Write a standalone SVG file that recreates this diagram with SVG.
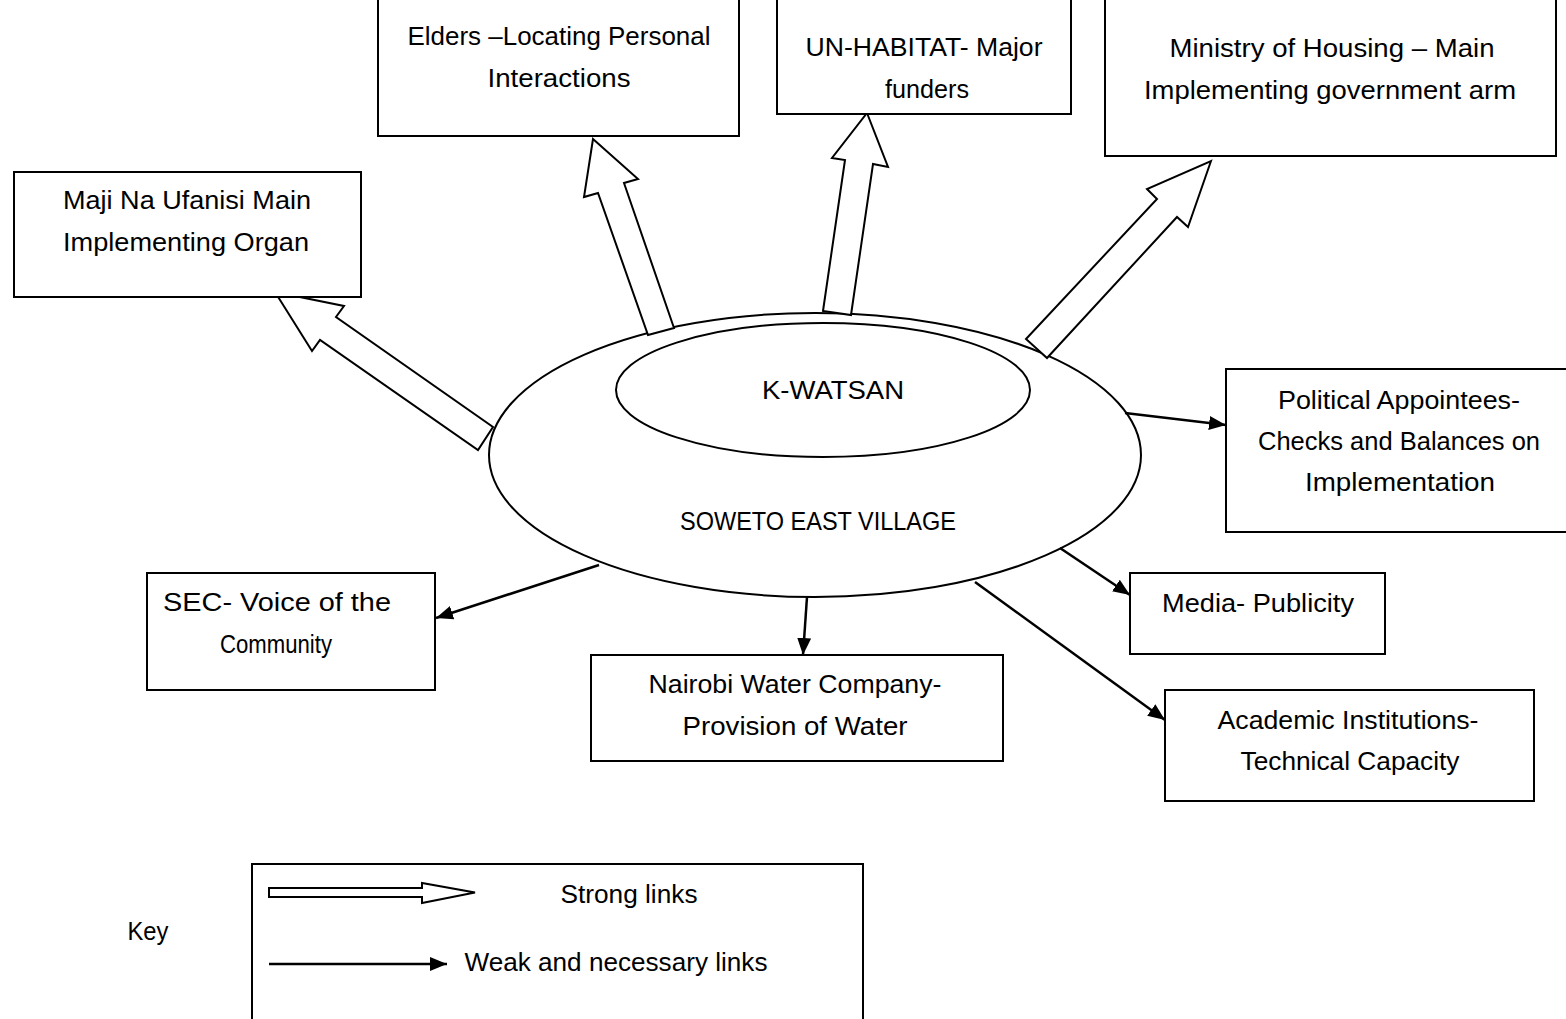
<svg xmlns="http://www.w3.org/2000/svg" width="1566" height="1019" viewBox="0 0 1566 1019">
<style>
.box{fill:#fff;stroke:#000;stroke-width:2}
.ell{fill:#fff;stroke:#000;stroke-width:2}
.blk{fill:#fff;stroke:#000;stroke-width:2;stroke-linejoin:miter}
.thin{fill:none;stroke:#000;stroke-width:2.5}
text{font-family:"Liberation Sans",Arial,sans-serif;font-size:25px;fill:#000;text-anchor:middle}
</style>
<defs>
<marker id="ah" markerUnits="userSpaceOnUse" markerWidth="18" markerHeight="15" refX="17" refY="7" orient="auto">
<path d="M0,0 L17,7 L0,14 z" fill="#000"/>
</marker>
</defs>
<rect width="1566" height="1019" fill="#fff"/>

<g id="soweto">
<ellipse class="ell" cx="815" cy="455" rx="326" ry="142"/>
<text x="818" y="530" font-size="24" textLength="276" lengthAdjust="spacingAndGlyphs">SOWETO EAST VILLAGE</text>
</g>
<g id="kwatsan">
<ellipse class="ell" cx="823" cy="390" rx="207" ry="67"/>
<text x="833" y="399" textLength="142" lengthAdjust="spacingAndGlyphs">K-WATSAN</text>
</g>

<g id="connectors">
<polygon class="blk" points="275,292 344,306 336,317 493,427 478,450 320,340 312,351"/>
<polygon class="blk" points="593,139 638,179 624,183 674,328 648,335 598,193 584,197"/>
<polygon class="blk" points="867,113 888,167 873,164 851,315 823,311 845,160 832,158"/>
<polygon class="blk" points="1211,161 1188,227 1177,217 1047,358 1026,339 1157,199 1147,189"/>
<line class="thin" x1="1125" y1="413" x2="1226" y2="425" marker-end="url(#ah)"/>
<line class="thin" x1="599" y1="565" x2="436" y2="618" marker-end="url(#ah)"/>
<line class="thin" x1="807" y1="597" x2="803" y2="655" marker-end="url(#ah)"/>
<line class="thin" x1="1060" y1="548" x2="1130" y2="595" marker-end="url(#ah)"/>
<line class="thin" x1="975" y1="582" x2="1165" y2="720" marker-end="url(#ah)"/>
</g>

<g id="elders">
<rect class="box" x="378" y="-2" width="361" height="138"/>
<text x="559" y="45" textLength="303" lengthAdjust="spacingAndGlyphs">Elders –Locating Personal</text>
<text x="559" y="87" textLength="143" lengthAdjust="spacingAndGlyphs">Interactions</text>
</g>
<g id="unhabitat">
<rect class="box" x="777" y="-2" width="294" height="116"/>
<text x="924" y="56" textLength="237" lengthAdjust="spacingAndGlyphs">UN-HABITAT- Major</text>
<text x="927" y="98" textLength="84" lengthAdjust="spacingAndGlyphs">funders</text>
</g>
<g id="ministry">
<rect class="box" x="1105" y="-2" width="451" height="158"/>
<text x="1332" y="57" textLength="325" lengthAdjust="spacingAndGlyphs">Ministry of Housing – Main</text>
<text x="1330" y="99" textLength="372" lengthAdjust="spacingAndGlyphs">Implementing government arm</text>
</g>
<g id="maji">
<rect class="box" x="14" y="172" width="347" height="125"/>
<text x="187" y="209" textLength="248" lengthAdjust="spacingAndGlyphs">Maji Na Ufanisi Main</text>
<text x="186" y="251" textLength="246" lengthAdjust="spacingAndGlyphs">Implementing Organ</text>
</g>
<g id="political">
<rect class="box" x="1226" y="369" width="345" height="163"/>
<text x="1399" y="409" textLength="242" lengthAdjust="spacingAndGlyphs">Political Appointees-</text>
<text x="1399" y="450" textLength="282" lengthAdjust="spacingAndGlyphs">Checks and Balances on</text>
<text x="1400" y="491" textLength="190" lengthAdjust="spacingAndGlyphs">Implementation</text>
</g>
<g id="sec">
<rect class="box" x="147" y="573" width="288" height="117"/>
<text x="277" y="611" textLength="228" lengthAdjust="spacingAndGlyphs">SEC- Voice of the</text>
<text x="276" y="653" textLength="112" lengthAdjust="spacingAndGlyphs">Community</text>
</g>
<g id="nairobi">
<rect class="box" x="591" y="655" width="412" height="106"/>
<text x="795" y="693" textLength="293" lengthAdjust="spacingAndGlyphs">Nairobi Water Company-</text>
<text x="795" y="735" textLength="225" lengthAdjust="spacingAndGlyphs">Provision of Water</text>
</g>
<g id="media">
<rect class="box" x="1130" y="573" width="255" height="81"/>
<text x="1258" y="612" textLength="192" lengthAdjust="spacingAndGlyphs">Media- Publicity</text>
</g>
<g id="academic">
<rect class="box" x="1165" y="690" width="369" height="111"/>
<text x="1348" y="729" textLength="261" lengthAdjust="spacingAndGlyphs">Academic Institutions-</text>
<text x="1350" y="770" textLength="219" lengthAdjust="spacingAndGlyphs">Technical Capacity</text>
</g>

<g id="key">
<text x="148" y="940" textLength="41" lengthAdjust="spacingAndGlyphs">Key</text>
<rect class="box" x="252" y="864" width="611" height="165"/>
<polygon class="blk" stroke-width="1.6" points="269,888 422,888 422,883 475,892.5 422,903 422,897 269,897"/>
<text x="629" y="903" textLength="137" lengthAdjust="spacingAndGlyphs">Strong links</text>
<line class="thin" x1="269" y1="964" x2="447" y2="964" marker-end="url(#ah)"/>
<text x="616" y="971" textLength="303" lengthAdjust="spacingAndGlyphs">Weak and necessary links</text>
</g>
</svg>
